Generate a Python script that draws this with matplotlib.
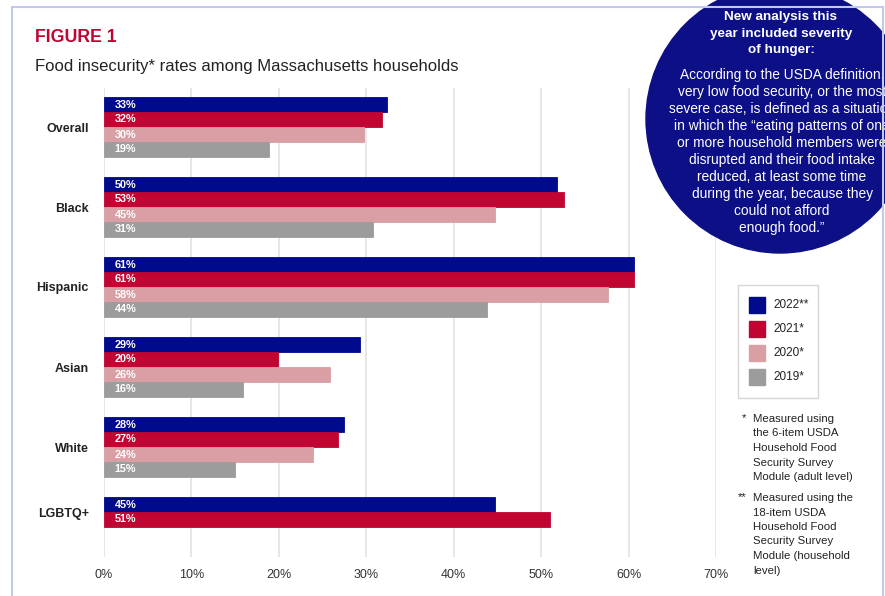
#food insecurity chart, figure 1
import matplotlib.pyplot as plt
from matplotlib.patches import Circle, Rectangle
import numpy as np

plt.rcParams['font.family'] = ['Liberation Sans', 'DejaVu Sans']

#colours
NAVY = "#000a8c"
RED = "#c10532"
PINK = "#d99fa4"
GREY = "#9c9c9c"
CIRCLE = "#0c0f86"

#data
categories = ["Overall", "Black", "Hispanic", "Asian", "White", "LGBTQ+"]
years = ["2022**", "2021*", "2020*", "2019*"]
colors = [NAVY, RED, PINK, GREY]

#bar lengths as drawn, and the labels printed on them
values = {
    "2022**": [32.4, 51.8, 60.6, 29.3, 27.5, 44.7],
    "2021*": [31.8, 52.6, 60.6, 19.9, 26.8, 51.0],
    "2020*": [29.7, 44.7, 57.7, 25.9, 23.9, np.nan],
    "2019*": [18.9, 30.8, 43.8, 15.9, 15.0, np.nan],
}
labels = {
    "2022**": ["33%", "50%", "61%", "29%", "28%", "45%"],
    "2021*": ["32%", "53%", "61%", "20%", "27%", "51%"],
    "2020*": ["30%", "45%", "58%", "26%", "24%", ""],
    "2019*": ["19%", "31%", "44%", "16%", "15%", ""],
}
xticks = [0, 10, 20, 30, 40, 50, 60, 70]

W, H = 885, 596
fig = plt.figure(figsize=(W / 100, H / 100), dpi=100)

def fx(px):
    return px / W

def fy(py):
    return 1 - py / H

#outer frame
fig.patches.append(Rectangle((fx(12), fy(640)), fx(883) - fx(12), fy(7) - fy(640),
                             transform=fig.transFigure, fill=False,
                             edgecolor="#c3c9ee", lw=1.5, zorder=0))

ax = fig.add_axes([fx(104), fy(557), fx(716) - fx(104), fy(88) - fy(557)])
ax.set_facecolor("none")

bar_h = 15 / 80
for j, yr in enumerate(years):
    offs = (j - 1.5) * bar_h
    for i, cat in enumerate(categories):
        v = values[yr][i]
        if np.isnan(v):
            continue
        y = i + offs
        ax.barh(y, v, height=bar_h, color=colors[j],
                edgecolor=colors[j], lw=0.6, zorder=3)
        ax.annotate(labels[yr][i], xy=(0, y), xytext=(7.5, 0),
                    textcoords="offset points", ha="left", va="center",
                    color="white", fontsize=7.8, fontweight="bold", zorder=4)

#category tick positions: centre of the bars that exist
ypos = []
for i, cat in enumerate(categories):
    present = [j for j, yr in enumerate(years) if not np.isnan(values[yr][i])]
    ypos.append(i + np.mean([(j - 1.5) * bar_h for j in present]))

ax.set_yticks(ypos)
ax.set_yticklabels(categories, fontsize=9, fontweight="bold", color="#222222")
ax.set_xticks(xticks)
ax.set_xticklabels([f"{t}%" for t in xticks], fontsize=9, color="#333333")
ax.tick_params(length=0)
ax.tick_params(axis="y", pad=11)
ax.tick_params(axis="x", pad=9)
ax.set_xlim(0, 70)
ax.set_ylim((557 - 127) / 80, (88 - 127) / 80)
ax.grid(axis="x", color="#e2e2e2", lw=1.2, zorder=0)
for s in ax.spines.values():
    s.set_visible(False)

#titles
fig.text(fx(35), fy(38), "FIGURE 1", color=RED, fontsize=12.8,
         fontweight="bold", va="center", ha="left")
fig.text(fx(35), fy(67), "Food insecurity* rates among Massachusetts households",
         color="#222222", fontsize=12, va="center", ha="left")

#legend
leg_ax = fig.add_axes([0, 0, 1, 1], facecolor="none")
leg_ax.set_xlim(0, W)
leg_ax.set_ylim(H, 0)
leg_ax.axis("off")
leg_ax.add_patch(Rectangle((738, 285), 80, 113, fill=False, edgecolor="#d6d6d6", lw=1))
for j, yr in enumerate(years):
    yy = 305 + j * 24
    leg_ax.add_patch(Rectangle((749, yy - 8), 16, 16, color=colors[j]))
    leg_ax.text(773, yy, yr, fontsize=8.5, va="center", ha="left", color="#222222")

#footnotes
note1 = ["Measured using", "the 6-item USDA", "Household Food",
         "Security Survey", "Module (adult level)"]
note2 = ["Measured using the", "18-item USDA", "Household Food",
         "Security Survey", "Module (household", "level)"]
leg_ax.text(742, 418, "*", fontsize=8.2, va="center", ha="left", color="#222222")
for k, line in enumerate(note1):
    leg_ax.text(753, 419 + k * 14.5, line, fontsize=8.2, va="center", ha="left", color="#222222")
leg_ax.text(738, 497, "**", fontsize=8.2, va="center", ha="left", color="#222222")
for k, line in enumerate(note2):
    leg_ax.text(753, 498 + k * 14.5, line, fontsize=8.2, va="center", ha="left", color="#222222")

#circle call-out
leg_ax.add_patch(Circle((780, 119), 134, color=CIRCLE, zorder=5))
head = ["New analysis this", "year included severity", "of hunger:"]
body = ["According to the USDA definition,", "very low food security, or the most",
        "severe case, is defined as a situation", "in which the \u201ceating patterns of one",
        "or more household members were", "disrupted and their food intake",
        "reduced, at least some time", "during the year, because they",
        "could not afford", "enough food.\u201d"]
for k, line in enumerate(head):
    leg_ax.text(781, 17 + k * 16.5, line, fontsize=9.7, fontweight="bold",
                color="white", ha="center", va="center", zorder=6)
for k, line in enumerate(body):
    leg_ax.text(782, 75 + k * 17, line, fontsize=9.9,
                color="white", ha="center", va="center", zorder=6)

fig.savefig("out.png", dpi=100)
